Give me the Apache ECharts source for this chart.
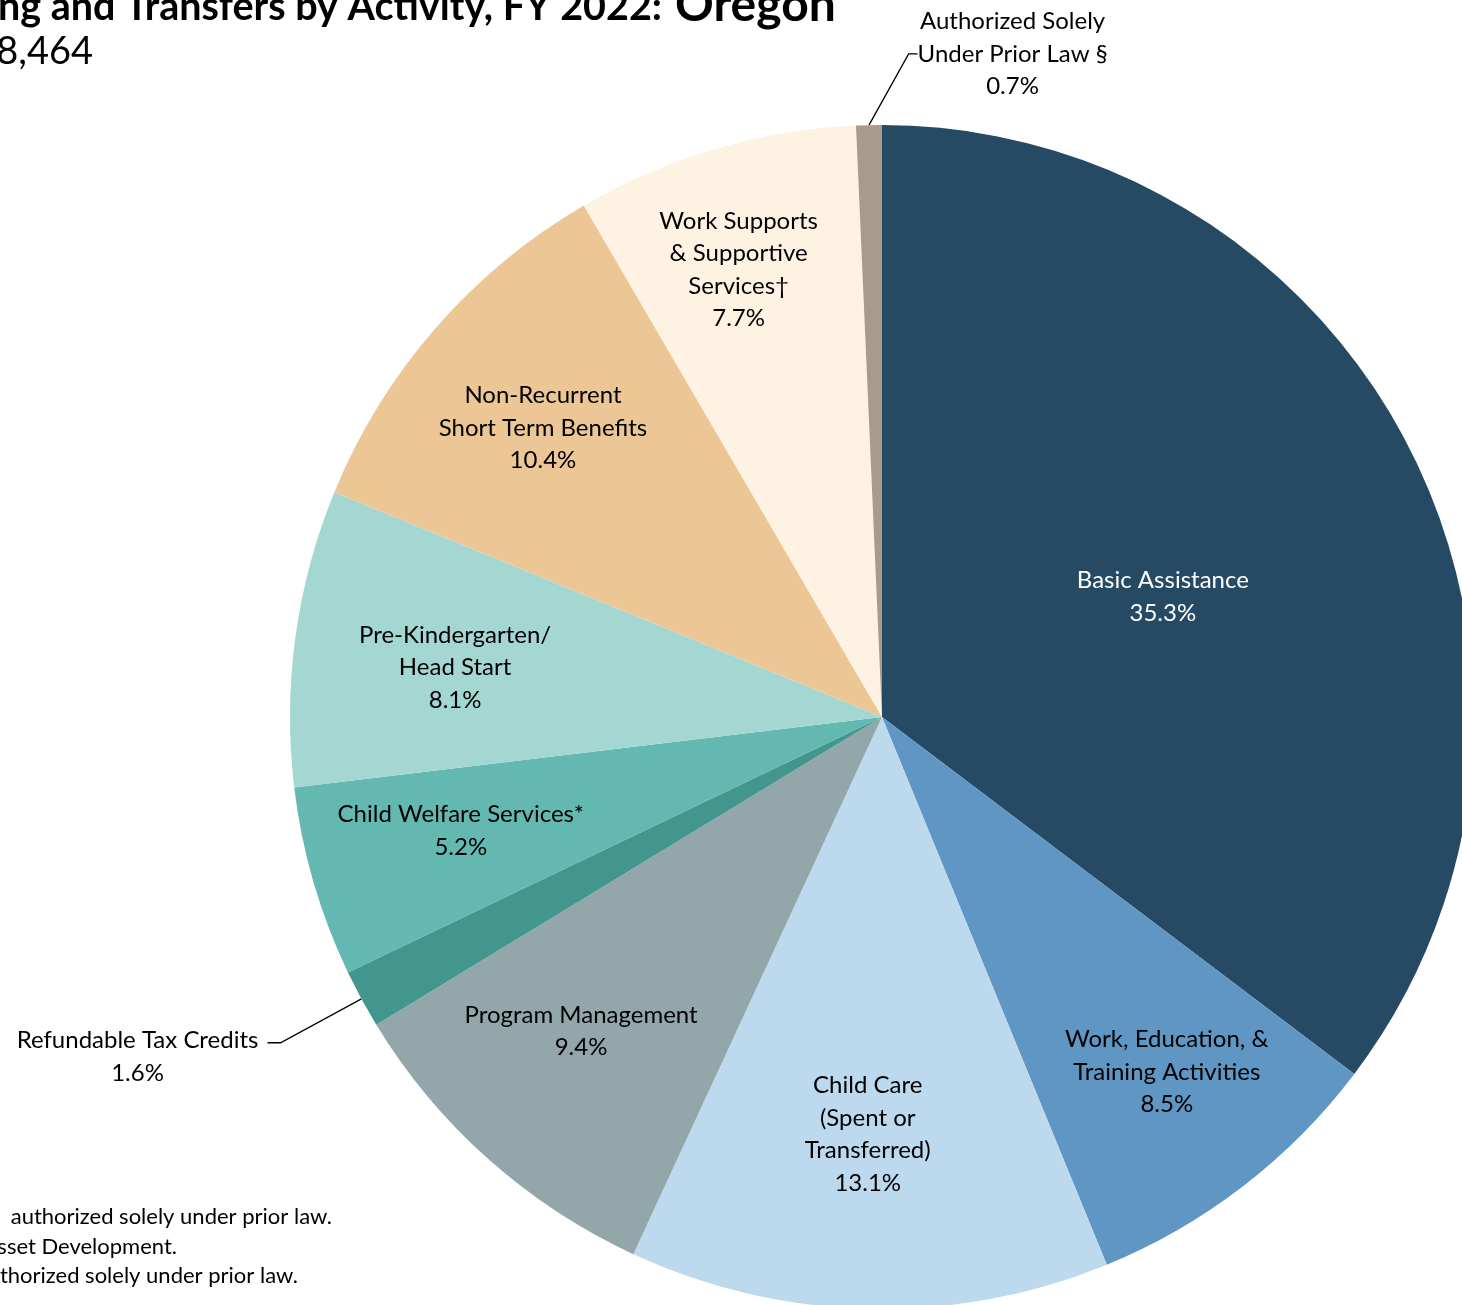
<!DOCTYPE html>
<html>
<head>
<meta charset="utf-8">
<script src="https://cdn.jsdelivr.net/npm/echarts@6/dist/echarts.min.js"></script>
<style>
  html, body { margin: 0; padding: 0; background: #ffffff; }
  #chart { width: 1462px; height: 1305px; }
</style>
</head>
<body>
<div id="chart"></div>
<script>
// Spending categories, clockwise from 12 o'clock
const categories = [
  'Basic Assistance',
  'Work, Education, &\nTraining Activities',
  'Child Care\n(Spent or\nTransferred)',
  'Program Management',
  'Refundable Tax Credits',
  'Child Welfare Services*',
  'Pre-Kindergarten/\nHead Start',
  'Non-Recurrent\nShort Term Benefits',
  'Work Supports\n& Supportive\nServices\u2020',
  'Authorized Solely\nUnder Prior Law \u00a7'
];

// Share of total funds used (%)
const shares = [35.3, 8.5, 13.1, 9.4, 1.6, 5.2, 8.1, 10.4, 7.7, 0.7];

const sliceColors = [
  '#264a64', '#5f96c4', '#bdd9ee', '#93a7ab', '#43968d',
  '#63b8b1', '#a4d7d2', '#edc696', '#fef3e3', '#a89a8d'
];

// Title and footnote text
const titleMain = 'ng and Transfers by Activity, FY 2022:';
const titleState = 'Oregon';
const subtitle = '8,464';
const footnotes = [
  ' authorized solely under prior law.',
  'sset Development.',
  'thorized solely under prior law.'
];

// Pie geometry
const CX = 882, CY = 717, R = 592;

// Label placement: [fraction of radius, angular nudge in degrees]; null = default outside label
const labelSpots = [
  [0.516, 3.3], [0.769, -1.1], [0.705, 0.7], [0.735, 2.0], null,
  [0.737, 1.1], [0.726, -1.1], [0.7525, -0.6], [0.793, -1.4], [1.1416, 12.4]
];

const total = shares.reduce((a, b) => a + b, 0);
const cumStart = [];
shares.reduce((acc, v, i) => { cumStart[i] = acc; return acc + v; }, 0);

const FONT = 'Lato, "Open Sans", sans-serif';
const LABEL_SIZE = 24;

const pieData = categories.map((name, i) => {
  const item = {
    name: name,
    value: shares[i],
    itemStyle: { color: sliceColors[i] },
    label: { color: i === 0 ? '#ffffff' : '#000000' }
  };
  if (i === 4) {
    item.label = {
      position: 'outside',
      color: '#000000',
      padding: [28, 0, 0, 0],
      formatter: p => '{a|' + p.name + '}\n{a|' + p.value.toFixed(1) + '%}',
      rich: { a: { width: 250, align: 'center', fontSize: LABEL_SIZE, lineHeight: 33, fontFamily: FONT, color: '#000' } }
    };
    item.labelLine = { show: true, length: 92, length2: 13, lineStyle: { color: '#000', width: 1.3 } };
  } else if (i === 9) {
    item.label = { position: 'outside', color: '#000000' };
    item.labelLine = { show: true, length: 20, length2: 9, lineStyle: { color: '#000', width: 1.3 } };
  }
  return item;
});

const chart = echarts.init(document.getElementById('chart'), null, { renderer: 'canvas' });

const footGraphics = footnotes.map((t, i) => ({
  type: 'text',
  x: [332, 177, 298][i],
  y: [1217, 1247, 1276][i],
  style: { text: t, font: '22px ' + FONT, fill: '#000', align: 'right', verticalAlign: 'middle' }
}));

chart.setOption({
  animation: false,
  backgroundColor: '#ffffff',
  textStyle: { fontFamily: FONT },
  graphic: [
    {
      type: 'text', x: 662, y: 27,
      style: { text: titleMain, font: 'bold 39.5px ' + FONT, fill: '#000', align: 'right', verticalAlign: 'bottom' }
    },
    {
      type: 'text', x: 675, y: 30,
      style: { text: titleState, font: 'bold 48px ' + FONT, fill: '#000', align: 'left', verticalAlign: 'bottom' }
    },
    {
      type: 'text', x: 93, y: 52,
      style: { text: subtitle, font: '38px ' + FONT, fill: '#000', align: 'right', verticalAlign: 'middle' }
    }
  ].concat(footGraphics),
  series: [{
    type: 'pie',
    center: [CX, CY],
    radius: R,
    startAngle: 90,
    clockwise: true,
    avoidLabelOverlap: false,
    label: {
      show: true,
      position: 'inside',
      fontSize: LABEL_SIZE,
      lineHeight: 32.5,
      fontFamily: FONT,
      align: 'center',
      formatter: p => p.name + '\n' + p.value.toFixed(1) + '%'
    },
    labelLine: { show: false },
    emphasis: { disabled: true },
    labelLayout: function (params) {
      const spot = labelSpots[params.dataIndex];
      if (!spot) return {};
      const deg = (cumStart[params.dataIndex] + shares[params.dataIndex] / 2) / total * 360 + spot[1];
      const rad = deg * Math.PI / 180;
      return {
        x: CX + spot[0] * R * Math.sin(rad),
        y: CY - spot[0] * R * Math.cos(rad),
        align: 'center',
        verticalAlign: 'middle'
      };
    },
    data: pieData
  }]
});
</script>
</body>
</html>
